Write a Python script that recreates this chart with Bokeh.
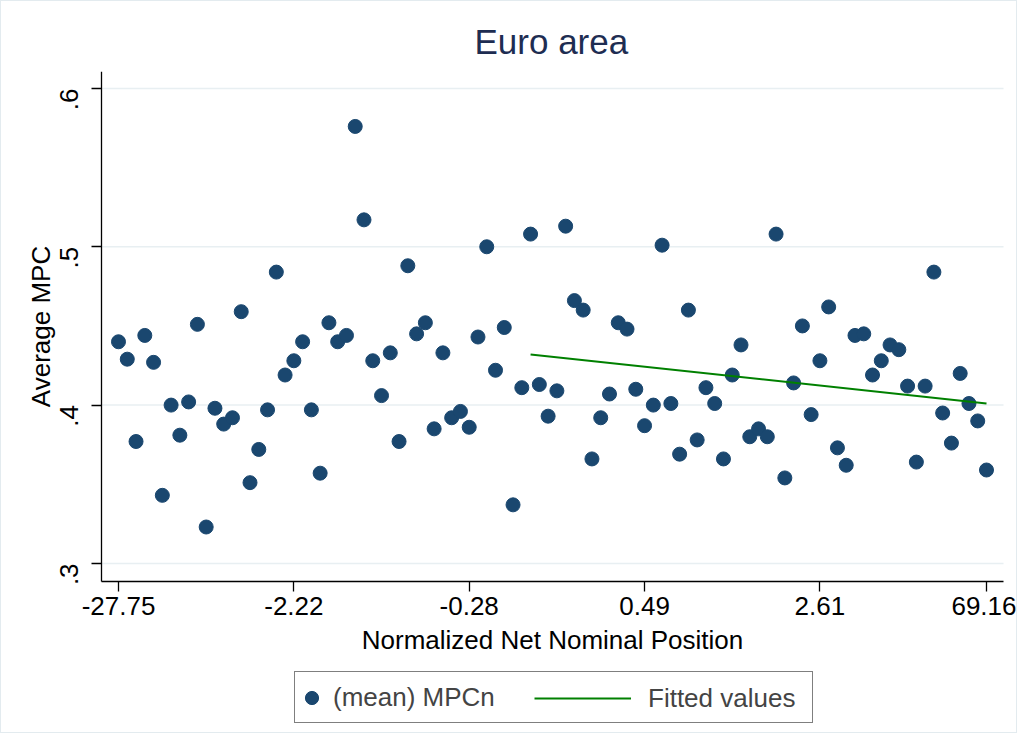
import math

from bokeh.embed import file_html
from bokeh.models import (CustomJSTickFormatter, FixedTicker, Label, Legend,
                          LegendItem, Range1d)
from bokeh.plotting import figure
from bokeh.resources import INLINE

# 100 bins of the normalized net nominal position, mean MPC in each
bins = list(range(1, 101))
mpc = [
    0.440, 0.429, 0.377, 0.444, 0.427, 0.343, 0.400, 0.381, 0.402, 0.451,
    0.323, 0.398, 0.388, 0.392, 0.459, 0.351, 0.372, 0.397, 0.484, 0.419,
    0.428, 0.440, 0.397, 0.357, 0.452, 0.440, 0.444, 0.576, 0.517, 0.428,
    0.406, 0.433, 0.377, 0.488, 0.445, 0.452, 0.385, 0.433, 0.392, 0.396,
    0.386, 0.443, 0.500, 0.422, 0.449, 0.337, 0.411, 0.508, 0.413, 0.393,
    0.409, 0.513, 0.466, 0.460, 0.366, 0.392, 0.407, 0.452, 0.448, 0.410,
    0.387, 0.400, 0.501, 0.401, 0.369, 0.460, 0.378, 0.411, 0.401, 0.366,
    0.419, 0.438, 0.380, 0.385, 0.380, 0.508, 0.354, 0.414, 0.450, 0.394,
    0.428, 0.462, 0.373, 0.362, 0.444, 0.445, 0.419, 0.428, 0.438, 0.435,
    0.412, 0.364, 0.412, 0.484, 0.395, 0.376, 0.420, 0.401, 0.390, 0.359,
]

# fitted line (endpoints)
fit_x = [48, 100]
fit_y = [0.432, 0.401]

x_tick_pos = [1, 21, 41, 61, 81, 100]
x_tick_labels = ["-27.75", "-2.22", "-0.28", "0.49", "2.61", "69.16"]
y_ticks = [0.3, 0.4, 0.5, 0.6]

FONT = "Liberation Sans"
NAVY = "#1a476f"
GREEN = "#008000"

# The frame covers the whole canvas below the title so that the tick labels
# and the legend under the axis are not clipped. The axes sit at fixed
# places inside it and are cut to the plot region with bounds.
X_LEFT, X_RIGHT = -12.344, 103.65      # frame
X_AX_L, X_AX_R = -0.939, 101.94        # plot region
Y_TOP, Y_AXIS, Y_BOTTOM = 0.6107, 0.2886, 0.1970

p = figure(
    width=1017, height=733,
    x_range=Range1d(X_LEFT, X_RIGHT), y_range=Range1d(Y_BOTTOM, Y_TOP),
    output_backend="svg", toolbar_location=None,
    min_border_left=0, min_border_right=0,
    min_border_top=70, min_border_bottom=8,
)
p.styles = {"border": "1px solid #e3ebef"}
p.outline_line_color = None

p.title.text = "Euro area"
p.title.align = "left"
p.title.offset = 473
p.title.text_font = FONT
p.title.text_font_size = "35px"
p.title.text_font_style = "normal"
p.title.text_color = "#1e2d52"
p.title.standoff = 21

# horizontal grid lines, only across the plot region
p.xgrid.visible = False
p.ygrid.visible = False
p.segment(x0=X_AX_L, x1=X_AX_R, y0=y_ticks, y1=y_ticks,
          line_color="#e8eff2", line_width=1.5)

dots = p.scatter(bins, mpc, size=14, color=NAVY)
fit = p.line(fit_x, fit_y, color=GREEN, line_width=2)

# axes
for ax in (p.xaxis[0], p.yaxis[0]):
    ax.axis_line_color = "black"
    ax.axis_line_width = 1.3
    ax.major_tick_line_color = "black"
    ax.major_tick_line_width = 1.3
    ax.major_tick_out = 10
    ax.major_tick_in = 0
    ax.minor_tick_line_color = None
    ax.major_label_text_font = FONT
    ax.major_label_text_font_size = "26px"
    ax.major_label_text_color = "black"

p.xaxis.fixed_location = Y_AXIS
p.xaxis.bounds = (X_AX_L, X_AX_R)
p.xaxis.ticker = FixedTicker(ticks=x_tick_pos)
p.xaxis.major_label_overrides = dict(zip(x_tick_pos, x_tick_labels))
p.xaxis.major_label_standoff = 6

p.yaxis.fixed_location = X_AX_L
p.yaxis.bounds = (Y_AXIS, Y_TOP)
p.yaxis.ticker = FixedTicker(ticks=y_ticks)
p.yaxis.formatter = CustomJSTickFormatter(
    code="return tick.toFixed(1).replace(/^0/, '')")
p.yaxis.major_label_orientation = math.pi / 2
p.yaxis.major_label_standoff = 22

# axis titles
p.add_layout(Label(
    x=(X_AX_L + X_AX_R) / 2, y=0.2517, text="Normalized Net Nominal Position",
    text_align="center", text_baseline="middle",
    text_font=FONT, text_font_size="26px", text_color="black",
))
p.add_layout(Label(
    x=-7.84, y=(Y_AXIS + Y_TOP) / 2, text="Average MPC", angle=math.pi / 2,
    text_align="center", text_baseline="middle",
    text_font=FONT, text_font_size="26px", text_color="black",
))

# legend: boxed part with the dots, line item laid over it
leg_dots = Legend(
    items=[LegendItem(label="(mean) MPCn", renderers=[dots])],
    location=(293, 3), margin=0, padding=0,
    glyph_width=33, glyph_height=33, label_standoff=5,
    label_width=479, label_height=50,
    border_line_color="black", border_line_width=1,
    label_text_font=FONT, label_text_font_size="26px",
)
leg_fit = Legend(
    items=[LegendItem(label="Fitted values", renderers=[fit])],
    location=(533, 3), margin=0, padding=0,
    glyph_width=97, glyph_height=50, label_standoff=17,
    label_height=50,
    border_line_color=None, background_fill_alpha=0,
    label_text_font=FONT, label_text_font_size="26px",
)
p.add_layout(leg_dots)
p.add_layout(leg_fit)

open("out.html", "w").write(file_html(p, INLINE))
